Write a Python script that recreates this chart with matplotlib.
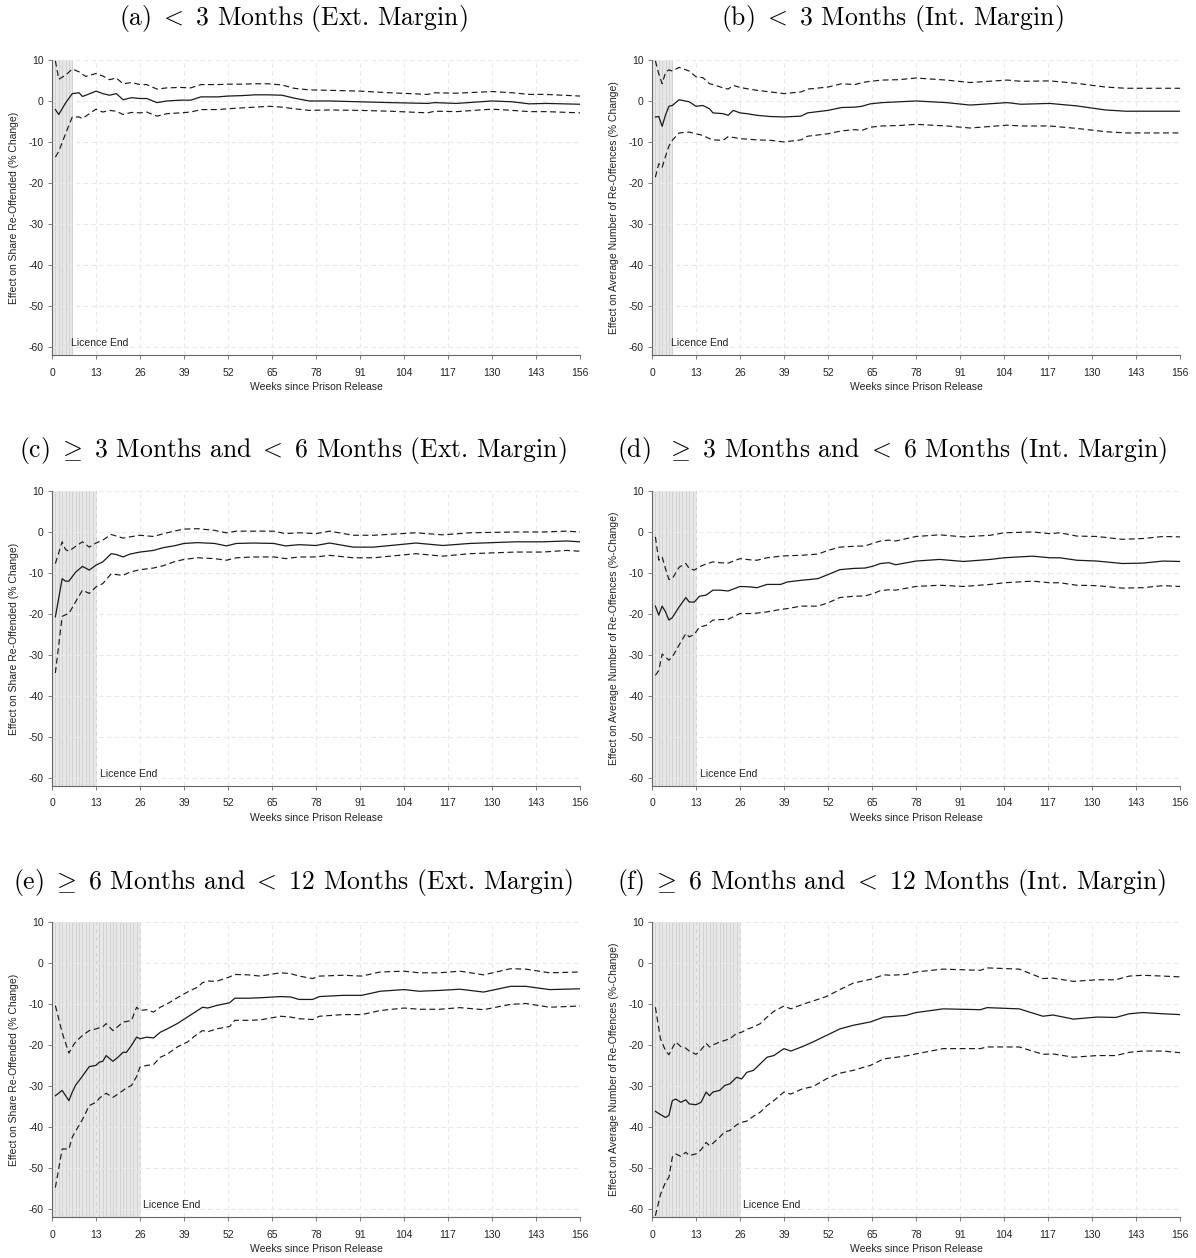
import matplotlib
matplotlib.use('Agg')
import matplotlib.pyplot as plt

plt.rcParams.update({
    'font.family': 'Liberation Sans',
    'axes.unicode_minus': False,
    'mathtext.fontset': 'cm',
})

# weeks since release and point estimates with 95% bounds, one block per panel
WEEKS_A = [1, 2, 4, 6, 8, 9, 10, 13, 15, 17, 19, 21, 23.5, 26, 28, 31, 34, 38, 41, 44,
           49, 52, 56, 60, 64, 68, 71.5, 76, 82, 91, 100, 111, 113, 119.5, 130, 136, 141, 146, 156]
EST_A = [-2.1, -3.3, -0.5, 1.8, 2.0, 1.1, 1.4, 2.4, 1.8, 1.4, 1.8, 0.3, 0.8, 0.6, 0.6, -0.4, 0.0, 0.2, 0.2, 1.0,
         1.0, 1.2, 1.3, 1.5, 1.5, 1.4, 0.7, 0.0, 0.0, -0.2, -0.4, -0.6, -0.4, -0.6, 0.0, -0.2, -0.7, -0.6, -0.8]
HI_A = [9.8, 5.3, 6.3, 7.8, 7.1, 6.5, 6.0, 6.7, 6.1, 5.2, 5.6, 4.2, 4.5, 4.0, 4.0, 2.9, 3.2, 3.3, 3.2, 4.0,
        4.0, 4.1, 4.1, 4.2, 4.2, 3.9, 3.1, 2.7, 2.6, 2.4, 2.0, 1.6, 2.0, 1.9, 2.3, 2.0, 1.6, 1.6, 1.2]
LO_A = [-13.7, -12.3, -8.0, -3.9, -3.9, -4.3, -3.7, -2.0, -2.7, -2.3, -2.5, -3.3, -2.8, -2.9, -2.7, -3.7, -3.1, -2.9, -2.7, -2.1,
        -2.1, -1.9, -1.7, -1.5, -1.3, -1.5, -1.9, -2.3, -2.2, -2.3, -2.5, -2.9, -2.5, -2.6, -2.0, -2.3, -2.6, -2.6, -2.9]

WEEKS_B = [1, 2, 3, 4, 5, 6, 8, 11, 13, 15, 17, 18, 21, 22.5, 24, 26, 28, 31, 35, 39,
           44, 46, 52, 56, 60, 62, 64.5, 68, 73, 78, 87, 94, 105, 109, 117.5, 125.5, 134, 140, 156]
EST_B = [-3.9, -3.8, -6.2, -3.4, -1.3, -1.1, 0.3, -0.2, -1.3, -1.1, -1.9, -2.9, -3.1, -3.5, -2.3, -2.9, -3.1, -3.5, -3.8, -3.9,
         -3.7, -2.9, -2.3, -1.6, -1.5, -1.3, -0.7, -0.4, -0.2, 0.0, -0.4, -1.0, -0.4, -0.8, -0.6, -1.2, -2.2, -2.5, -2.5]
HI_B = [9.8, 6.6, 4.2, 7.0, 7.6, 7.3, 8.2, 7.3, 5.9, 5.7, 4.2, 4.0, 3.2, 2.9, 3.8, 3.3, 3.0, 2.6, 2.2, 1.8,
        2.2, 2.9, 3.4, 4.2, 4.0, 4.5, 4.8, 5.1, 5.2, 5.6, 5.1, 4.5, 5.1, 4.8, 4.9, 4.3, 3.4, 3.1, 3.1]
LO_B = [-18.6, -15.3, -16.2, -13.5, -11.0, -9.6, -7.8, -7.6, -8.0, -8.4, -9.2, -9.5, -9.6, -8.7, -8.9, -9.2, -9.3, -9.5, -9.6, -10.0,
        -9.5, -8.6, -8.0, -7.3, -7.0, -7.2, -6.4, -6.1, -6.0, -5.7, -6.1, -6.6, -5.9, -6.1, -6.1, -6.7, -7.5, -7.8, -7.8]

WEEKS_C = [1, 3, 4, 5, 7, 9, 11, 13, 15, 17.5, 19, 21, 23, 26, 30, 33, 36, 39, 43, 48,
           51.5, 54.5, 59.5, 65.5, 69, 73, 78, 82, 89, 95, 107.5, 115.5, 123.5, 137, 145, 152, 156]
EST_C = [-20.7, -11.4, -12.0, -12.0, -9.8, -8.4, -9.3, -8.1, -7.3, -5.3, -5.5, -6.1, -5.4, -4.9, -4.5, -3.8, -3.4, -2.8, -2.6, -2.8,
         -3.4, -2.8, -2.7, -2.8, -3.4, -3.1, -3.3, -2.7, -3.7, -3.7, -2.7, -3.3, -2.8, -2.4, -2.4, -2.2, -2.4]
HI_C = [-7.7, -2.4, -4.3, -4.7, -3.5, -2.4, -3.7, -2.7, -2.0, -0.6, -1.0, -1.5, -1.2, -0.8, -1.1, -0.4, 0.2, 0.7, 0.8, 0.4,
        -0.2, 0.2, 0.2, 0.2, -0.4, -0.2, -0.4, 0.2, -0.8, -0.8, -0.2, -0.7, -0.2, 0.0, 0.0, 0.2, 0.0]
LO_C = [-34.4, -20.6, -20.2, -19.9, -17.0, -14.2, -15.0, -13.4, -12.6, -10.2, -10.4, -10.6, -9.8, -9.2, -8.8, -8.2, -7.3, -6.7, -6.3, -6.5,
        -6.9, -6.3, -6.1, -6.1, -6.5, -6.1, -6.1, -5.7, -6.3, -6.3, -5.3, -5.9, -5.3, -4.9, -4.9, -4.5, -4.7]

WEEKS_D = [1, 2, 3, 4, 5, 6, 8, 10, 11, 12.5, 14, 16, 18, 20, 22.5, 26, 29, 31, 34, 38,
           40, 44, 49, 52, 55.5, 59.5, 63, 65.5, 67.5, 70, 72, 78, 85, 92, 100, 104, 112.5, 117.5, 120.5, 125.5,
           131.5, 139, 145, 151, 156]
EST_D = [-18.1, -20.3, -18.1, -19.5, -21.5, -20.9, -18.3, -16.0, -17.1, -17.1, -15.7, -15.4, -14.2, -14.2, -14.4, -13.3, -13.4, -13.6, -12.8, -12.8,
         -12.2, -11.8, -11.4, -10.4, -9.2, -8.9, -8.8, -8.3, -7.7, -7.5, -8.0, -7.1, -6.7, -7.2, -6.7, -6.3, -5.9, -6.3, -6.3, -6.9,
         -7.1, -7.7, -7.6, -7.1, -7.2]
HI_D = [-1.2, -6.9, -6.1, -9.0, -11.6, -11.4, -8.6, -7.7, -8.9, -9.3, -8.5, -7.8, -7.3, -7.5, -7.6, -6.5, -6.8, -6.9, -6.3, -5.9,
        -5.8, -5.7, -5.4, -4.5, -3.7, -3.5, -3.4, -2.7, -2.2, -2.0, -2.2, -1.1, -0.7, -1.2, -0.8, -0.2, 0.0, -0.4, -0.2, -1.0,
        -1.1, -1.8, -1.6, -1.1, -1.2]
LO_D = [-35.0, -33.8, -29.8, -30.5, -31.3, -30.5, -27.6, -24.8, -25.6, -25.0, -23.2, -22.8, -21.5, -21.4, -21.3, -19.9, -19.9, -19.8, -19.5, -18.9,
        -18.7, -18.1, -18.1, -17.3, -16.0, -15.7, -15.6, -15.0, -14.3, -14.1, -14.2, -13.3, -13.0, -13.3, -12.8, -12.4, -12.0, -12.4, -12.4, -13.0,
        -13.1, -13.7, -13.6, -13.1, -13.3]

WEEKS_E = [1, 3, 5, 6, 7, 9, 11, 13, 14, 15, 16, 18, 19.5, 21, 22, 23.5, 25, 26, 28, 30,
           32, 34, 37, 40, 43, 44.5, 46, 48.5, 52.5, 54, 58, 61.5, 67.5, 70.5, 73, 77, 79, 86, 91.5, 97,
           104, 108.5, 114.5, 120.5, 127.5, 135.5, 140, 147, 156]
EST_E = [-32.4, -31.1, -33.6, -31.5, -29.8, -27.6, -25.3, -25.0, -24.2, -24.0, -22.6, -24.0, -23.0, -21.8, -21.8, -20.1, -18.1, -18.5, -18.1, -18.3,
         -16.9, -16.1, -14.8, -13.2, -11.6, -10.8, -11.0, -10.4, -9.7, -8.6, -8.6, -8.5, -8.2, -8.3, -8.9, -8.9, -8.2, -7.9, -7.9, -6.9,
         -6.5, -6.9, -6.7, -6.4, -7.1, -5.7, -5.7, -6.5, -6.3]
HI_E = [-10.4, -17.0, -22.0, -20.5, -19.2, -17.7, -16.5, -16.1, -15.8, -15.6, -14.8, -16.5, -15.5, -14.4, -14.3, -14.0, -10.8, -11.6, -11.4, -12.0,
        -10.8, -10.0, -8.5, -7.1, -5.9, -4.8, -4.4, -4.5, -3.4, -2.8, -2.9, -3.2, -2.4, -2.6, -3.2, -3.8, -3.2, -3.0, -3.2, -2.2,
        -2.0, -2.4, -2.4, -2.0, -2.9, -1.4, -1.5, -2.4, -2.2]
LO_E = [-54.8, -45.4, -45.4, -42.5, -41.0, -38.2, -34.8, -34.0, -33.0, -32.4, -31.8, -32.8, -32.0, -31.1, -30.5, -29.9, -27.7, -25.4, -25.0, -24.8,
        -23.0, -22.3, -20.5, -19.3, -17.3, -16.5, -16.8, -16.1, -15.5, -14.0, -14.0, -13.9, -13.0, -13.2, -13.6, -13.8, -13.0, -12.6, -12.6, -11.6,
        -11.0, -11.3, -11.3, -10.9, -11.4, -10.1, -9.9, -10.8, -10.5]

WEEKS_F = [1, 2.5, 4, 5, 6, 7, 8.5, 10, 11, 13, 14.5, 16, 17, 18, 20, 21.5, 23, 25, 26.5, 28,
           30, 32, 34, 36, 39, 41, 44.5, 47.5, 51.5, 55.5, 59.5, 64.5, 68.5, 70.5, 75, 78, 86, 97, 99, 108.5,
           115.5, 118.5, 124.5, 131.5, 137, 141, 145, 151, 156]
EST_F = [-36.2, -37.0, -37.7, -37.2, -33.6, -33.2, -34.0, -33.4, -34.4, -34.6, -34.0, -31.5, -32.4, -31.5, -31.1, -29.9, -29.5, -27.9, -28.3, -26.7,
         -26.2, -24.6, -23.0, -22.6, -20.9, -21.5, -20.4, -19.3, -17.7, -16.1, -15.2, -14.4, -13.2, -13.1, -12.8, -12.1, -11.2, -11.4, -10.9, -11.2,
         -13.0, -12.7, -13.7, -13.2, -13.3, -12.4, -12.1, -12.4, -12.6]
HI_F = [-10.8, -18.5, -21.4, -22.4, -20.8, -19.3, -20.4, -20.8, -21.5, -22.3, -21.2, -19.6, -20.5, -20.0, -19.3, -18.9, -18.5, -17.2, -16.9, -16.2,
        -15.6, -14.8, -13.2, -11.8, -10.5, -11.2, -10.1, -9.3, -8.2, -6.5, -4.9, -4.0, -2.9, -3.0, -2.8, -2.2, -1.5, -1.8, -1.2, -1.5,
        -3.8, -3.7, -4.5, -4.1, -4.1, -3.2, -3.0, -3.2, -3.4]
LO_F = [-61.7, -56.5, -53.5, -52.3, -47.4, -46.6, -47.2, -46.2, -47.0, -46.6, -45.6, -43.8, -44.6, -44.0, -42.5, -41.2, -40.9, -39.5, -38.9, -38.6,
        -37.4, -36.4, -34.8, -33.6, -31.5, -32.0, -30.7, -30.2, -28.3, -26.9, -26.2, -25.0, -23.4, -23.2, -22.7, -22.2, -20.9, -20.9, -20.5, -20.5,
        -22.3, -22.2, -23.0, -22.6, -22.6, -21.8, -21.5, -21.5, -21.9]

TITLES = [
    r'(a)$\ <\ $3 Months (Ext. Margin)',
    r'(b)$\ <\ $3 Months (Int. Margin)',
    r'(c)$\ \geq\ $3 Months and$\ <\ $6 Months (Ext. Margin)',
    r'(d)$\ \ \geq\ $3 Months and$\ <\ $6 Months (Int. Margin)',
    r'(e)$\ \geq\ $6 Months and$\ <\ $12 Months (Ext. Margin)',
    r'(f)$\ \geq\ $6 Months and$\ <\ $12 Months (Int. Margin)',
]
YLABELS = [
    'Effect on Share Re-Offended (% Change)',
    'Effect on Average Number of Re-Offences (% Change)',
    'Effect on Share Re-Offended (% Change)',
    'Effect on Average Number of Re-Offences (%-Change)',
    'Effect on Share Re-Offended (% Change)',
    'Effect on Average Number of Re-Offences (%-Change)',
]
# licence period shading per row (weeks) and where the label starts
LICENCE_END = [6.3, 13.4, 26.2]
LABEL_X = [5.7, 14.2, 27.0]

SERIES = [
    (WEEKS_A, EST_A, HI_A, LO_A),
    (WEEKS_B, EST_B, HI_B, LO_B),
    (WEEKS_C, EST_C, HI_C, LO_C),
    (WEEKS_D, EST_D, HI_D, LO_D),
    (WEEKS_E, EST_E, HI_E, LO_E),
    (WEEKS_F, EST_F, HI_F, LO_F),
]

W, H = 1196, 1258
fig = plt.figure(figsize=(W / 100, H / 100), dpi=100)

col_left = [52, 652]
row_top = [60, 491, 922]
title_y = [19, 451, 882]
ax_w, ax_h = 528, 295

for i, (wk, est, hi, lo) in enumerate(SERIES):
    r, c = divmod(i, 2)
    ax = fig.add_axes([col_left[c] / W, 1 - (row_top[r] + ax_h) / H, ax_w / W, ax_h / H])

    end = LICENCE_END[r]
    ax.axvspan(0, end, color='#e7e7e7', lw=0, zorder=0)
    for k in range(1, int(end) + 1):
        ax.axvline(k, color='#c8c8c8', lw=0.5, zorder=0.5)

    ax.plot(wk, est, color='#1a1a1a', lw=0.9, zorder=3)
    ax.plot(wk, hi, color='#1a1a1a', lw=0.85, dashes=(5, 3), zorder=3)
    ax.plot(wk, lo, color='#1a1a1a', lw=0.85, dashes=(5, 3), zorder=3)

    ax.text(LABEL_X[r], -59, 'Licence End', fontsize=7.5, va='center', color='#222222', zorder=4)

    ax.set_xlim(0, 156)
    ax.set_ylim(-62, 10)
    ax.set_xticks(range(0, 157, 13))
    ax.set_yticks(range(-60, 11, 10))
    ax.grid(True, color='#e9e9e9', lw=0.8, linestyle=(0, (4, 3)), zorder=0)
    ax.set_axisbelow(True)
    for s in ('top', 'right'):
        ax.spines[s].set_visible(False)
    for s in ('left', 'bottom'):
        ax.spines[s].set_color('#666666')
        ax.spines[s].set_linewidth(0.8)
    ax.tick_params(axis='both', labelsize=7.5, length=3, width=0.6, color='#666666',
                   labelcolor='#222222')
    ax.tick_params(axis='x', pad=6)
    ax.tick_params(axis='y', pad=3)

    ax.set_xlabel('Weeks since Prison Release', fontsize=7.5, color='#222222', labelpad=3)
    ax.set_ylabel(YLABELS[i], fontsize=7.5, color='#222222')
    ax.yaxis.set_label_coords(-0.062, 0.5)

    fig.text((293 if c == 0 else 892) / W, 1 - title_y[r] / H, TITLES[i],
             family='cmr10', fontsize=18.5, ha='center', va='center')

fig.savefig('out.png', dpi=100)
